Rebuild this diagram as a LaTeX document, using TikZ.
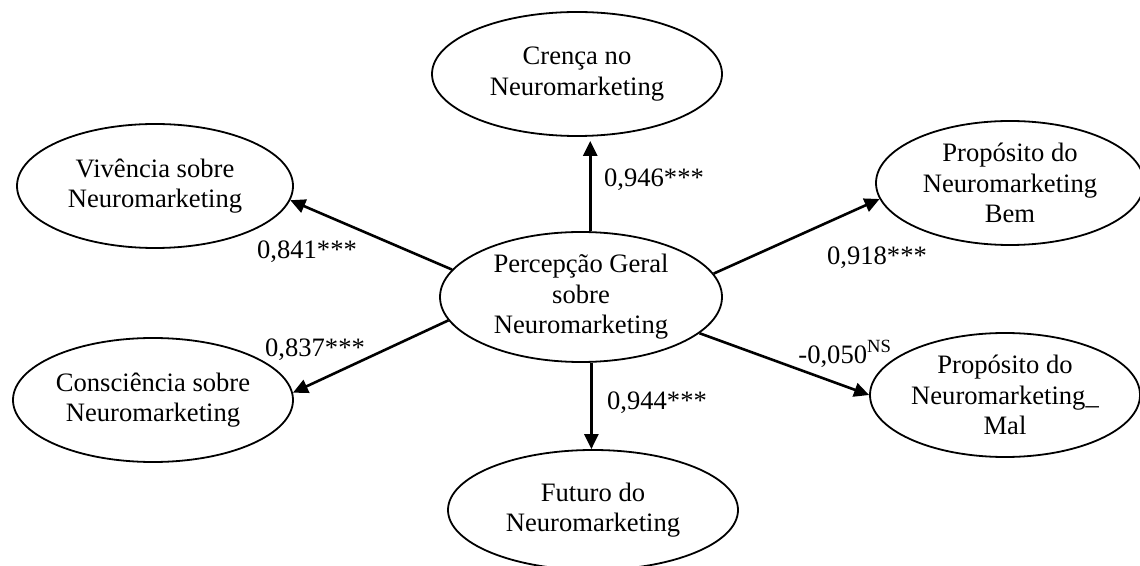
\documentclass[tikz,border=0pt]{standalone}
\usepackage{fontspec}
\setmainfont{Liberation Serif}
\usetikzlibrary{shapes.geometric,arrows.meta}
\begin{document}
\begin{tikzpicture}[x=0.5pt,y=-0.5pt,
  lv/.style={ellipse,draw,line width=0.9pt,inner sep=0pt,align=center,
    font=\fontsize{13.3}{15.3}\selectfont},
  arr/.style={line width=1.3pt,-{Triangle[length=7.5pt,width=7pt]}},
  lab/.style={font=\fontsize{13.3}{15.3}\selectfont,inner sep=0pt}]
\useasboundingbox (0,0) rectangle (1140,566);
\node[lv,minimum width=141pt,minimum height=65pt] (p) at (581,297) {Percepção Geral\\sobre\\Neuromarketing};
\node[lv,minimum width=145pt,minimum height=62pt] (c) at (577,74) {Crença no\\Neuromarketing};
\node[lv,minimum width=138pt,minimum height=62pt] (v) at (155,186) {Vivência sobre\\Neuromarketing};
\node[lv,minimum width=140pt,minimum height=62pt] (s) at (153,400) {Consciência sobre\\Neuromarketing};
\node[lv,minimum width=134pt,minimum height=62pt] (b) at (1010,183) {Propósito do\\Neuromarketing\\Bem};
\node[lv,minimum width=135pt,minimum height=62pt] (m) at (1005,395) {Propósito do\\Neuromarketing\_\\Mal};
\node[lv,minimum width=145pt,minimum height=60pt] (f) at (593,510) {Futuro do\\Neuromarketing};
\draw[arr,shorten >=2pt] (p.82) -- (p.82 |- c.south);
\draw[arr] (p.-81) -- (p.-81 |- f.north);
\draw[arr] (p.168) -- (v.-6);
\draw[arr] (p.190) -- (s.3);
\draw[arr] (p.10) -- (b.187);
\draw[arr] (p.-17.5) -- (m.west);
\node[lab] (l1) at (654,180) {0,946***};
\node[lab] (l2) at (307,252) {0,841***};
\node[lab] (l3) at (315,350) {0,837***};
\node[lab] (l4) at (877,258) {0,918***};
\node[lab,anchor=west] (l5) at (798,354) {-0,050\textsuperscript{NS}};
\node[lab] (l6) at (657,403) {0,944***};
\end{tikzpicture}
\end{document}
